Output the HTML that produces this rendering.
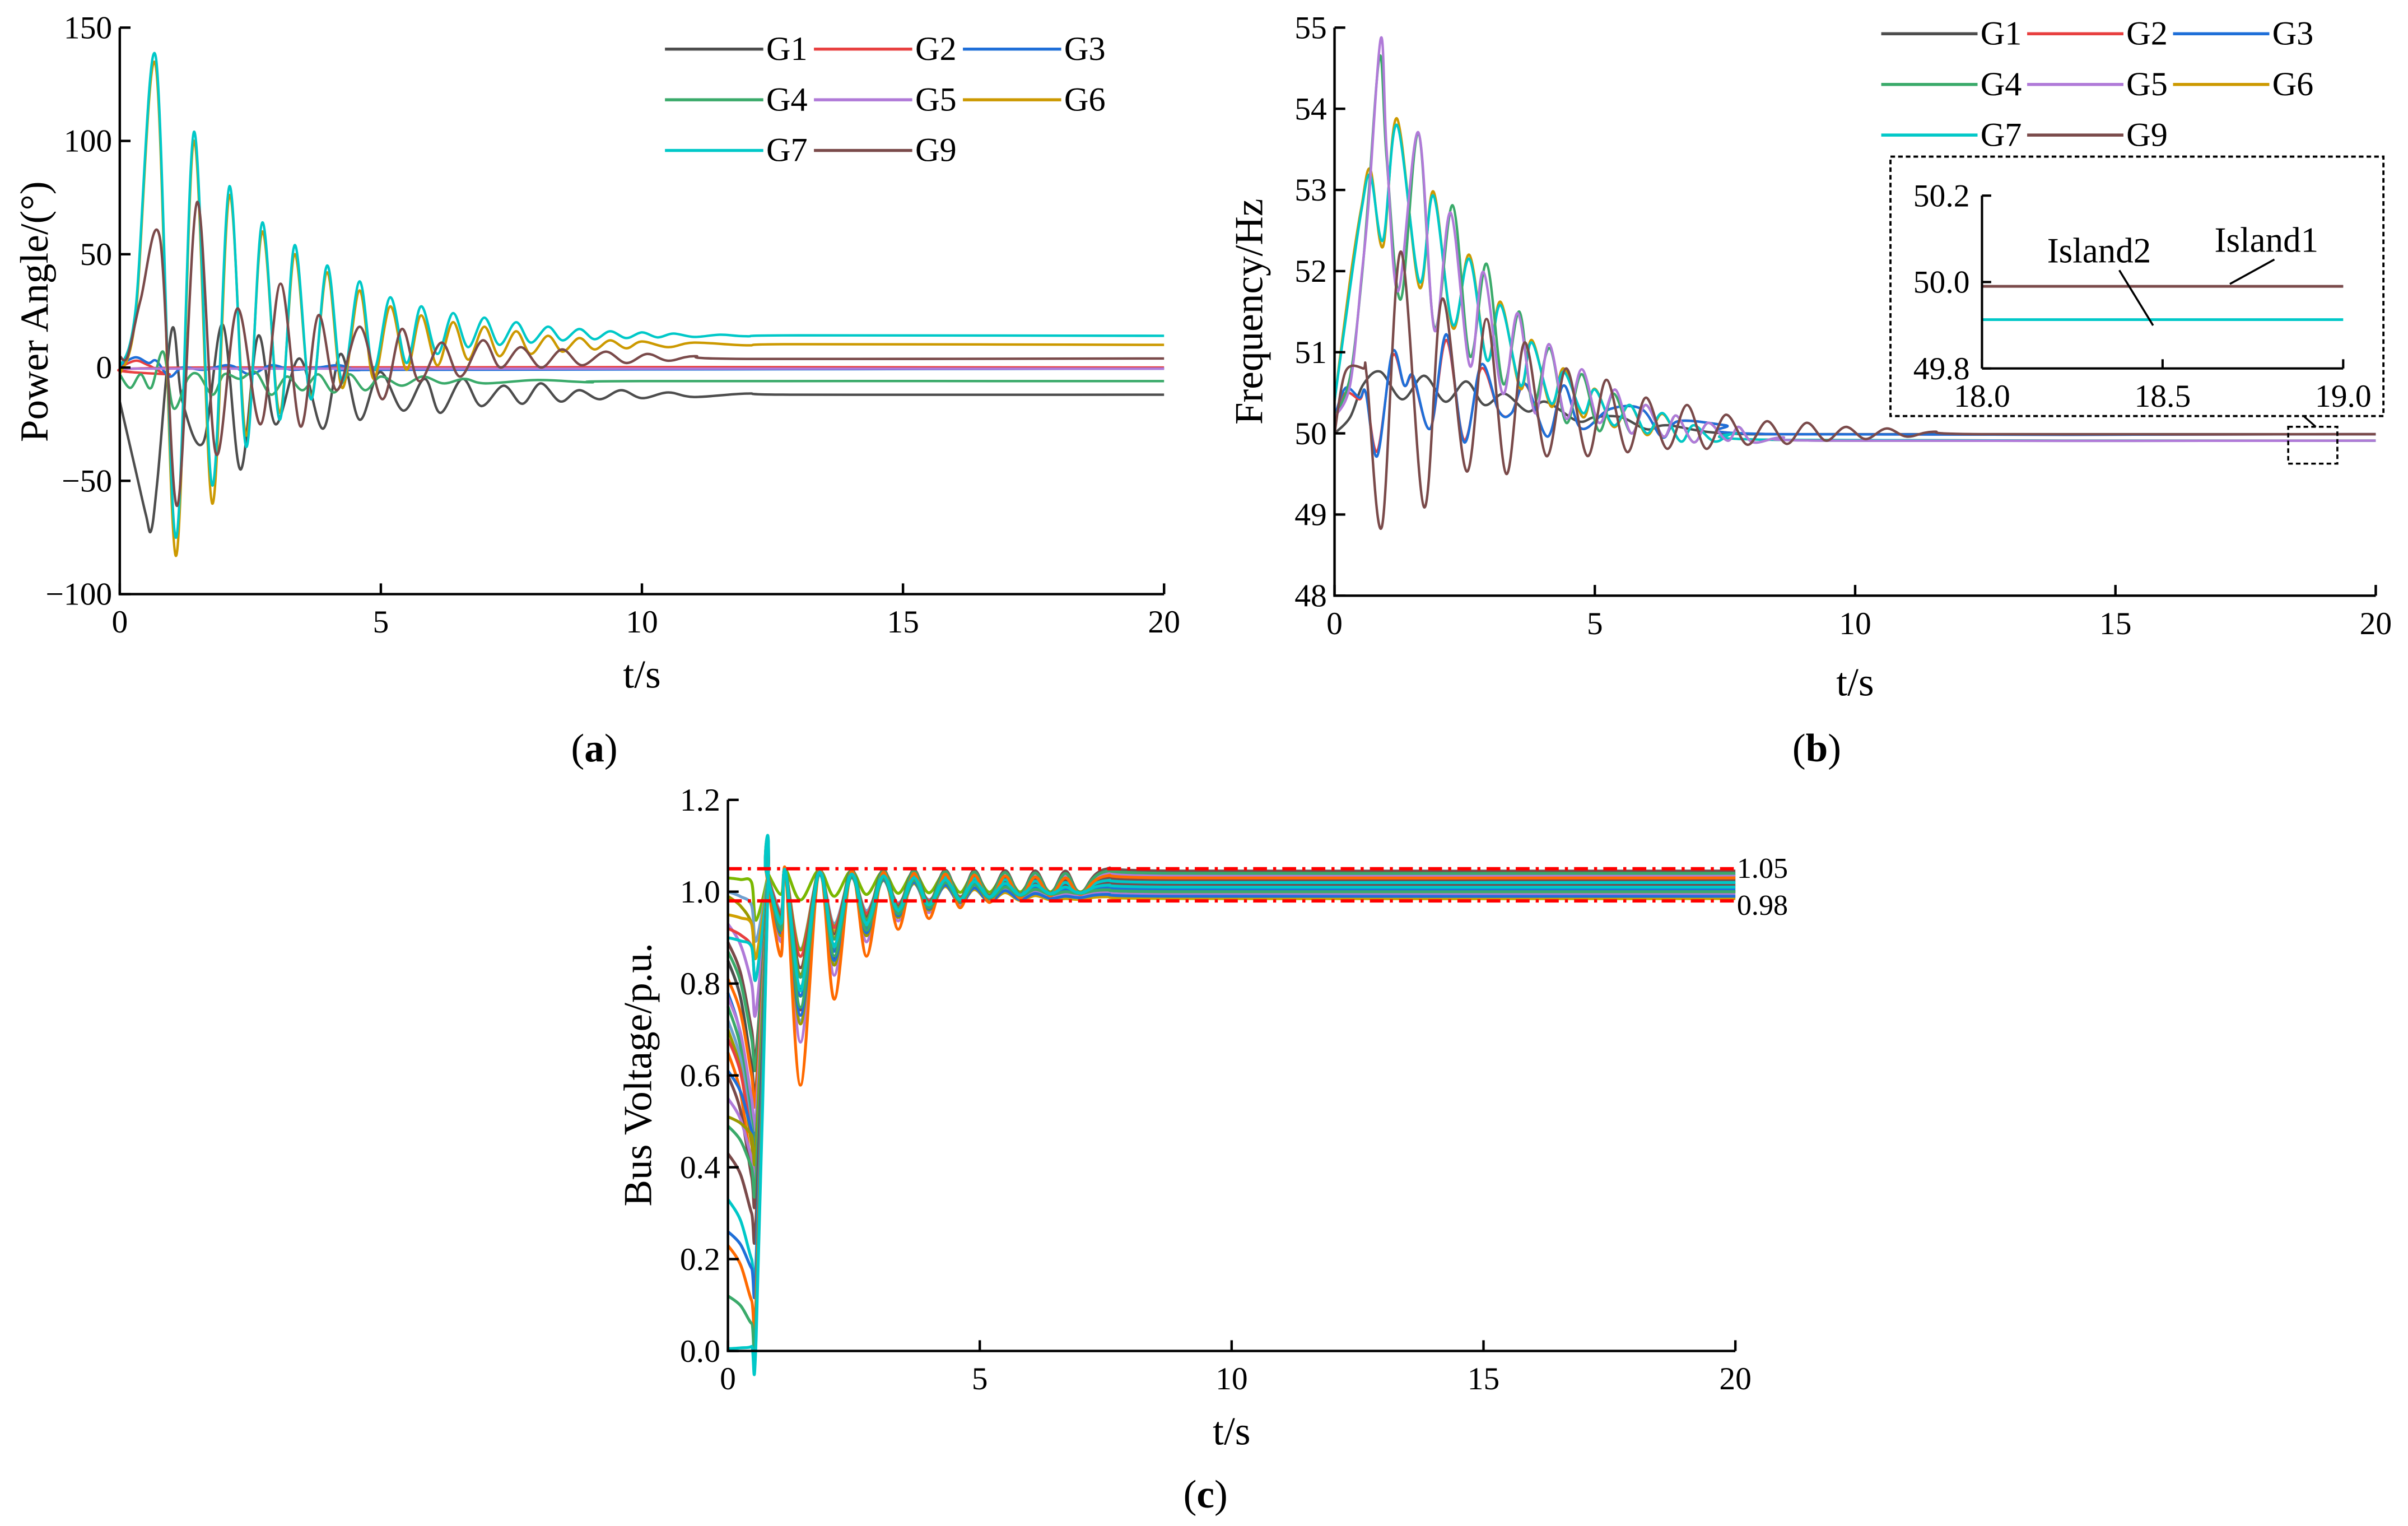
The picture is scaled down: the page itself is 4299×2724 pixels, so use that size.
<!DOCTYPE html>
<html><head><meta charset="utf-8"><title>Power angle, frequency and bus voltage after islanding</title>
<style>
html,body{margin:0;padding:0;background:#fff;}
svg{display:block;font-family:"Liberation Serif","DejaVu Serif",serif;}
</style></head>
<body>
<svg id="fig" xmlns="http://www.w3.org/2000/svg" width="4299" height="2724" viewBox="0 0 1568 994" preserveAspectRatio="none">
<rect x="0" y="0" width="1568" height="994" fill="#fff"/>
<g id="pa"></g>
<g id="pb"></g>
<g id="pc"></g>
</svg>
<script>
// ---------- Data: panel (a) power angle (deg) keypoints [t, value] ----------
const angG1 = [[0,-15],[0.3,-45],[0.5,-65],[0.6,-72],[0.72,-50],[1.0,17],[1.2,-15],[1.6,-33],[1.97,19],[2.31,-45],[2.65,14],[2.98,-25],[3.44,4],[3.89,-27],[4.23,6],[4.59,-23],[4.98,-2],[5.43,-19],[5.84,-5],[6.14,-20],[6.56,-5],[6.92,-17],[7.35,-8],[7.71,-16],[8.06,-7],[8.44,-15],[8.79,-10],[9.19,-14],[9.6,-10],[10,-13.5],[10.5,-11],[11,-13],[12,-11.5],[13,-12],[20,-12]];
const angG2 = [[0,0],[0.3,3],[0.55,1],[0.95,-3],[1.5,0],[20,0]];
const angG3 = [[0,1],[0.3,4.5],[0.55,2],[0.7,3],[0.95,-4],[1.2,0],[1.6,-1],[2.1,1],[2.5,-3],[2.9,1],[3.3,-1],[3.8,0],[4.2,1],[4.6,-1],[5.5,-1],[20,-0.5]];
const angG4 = [[0,-3],[0.2,-9],[0.4,-3],[0.6,-9],[0.83,7],[1.03,-18],[1.3,-5],[1.5,-3],[1.78,-12],[2.0,-3],[2.3,-5],[2.6,-2],[2.9,-12],[3.2,-4],[3.5,-10],[3.8,-3],[4.1,-11],[4.4,-3],[4.7,-10],[5.0,-4],[5.4,-8],[5.8,-4],[6.2,-7],[6.6,-5],[7.0,-7],[8,-5.5],[9,-6.5],[10,-6],[20,-6]];
const angG5 = [[0,-0.5],[20,-0.5]];
const angG6 = [[0,-3],[0.3,22],[0.69,133],[1.07,-83],[1.42,100],[1.77,-60],[2.10,76],[2.42,-30],[2.73,60],[3.06,-20],[3.35,50],[3.66,-13],[3.97,42],[4.26,-9],[4.59,34],[4.86,-5],[5.18,27],[5.49,-1],[5.77,23],[6.08,1],[6.38,20],[6.67,3.5],[6.98,18],[7.27,5],[7.59,16],[7.87,6],[8.2,14],[8.48,7],[8.8,13],[9.09,8],[9.39,12],[9.7,8.5],[10,11.5],[10.5,9],[11,11],[12,9.8],[13,10.3],[20,10]];
const angG7 = [[0,0],[0.3,25],[0.69,137],[1.07,-75],[1.42,104],[1.77,-52],[2.10,80],[2.42,-35],[2.73,64],[3.06,-23],[3.35,54],[3.66,-14],[3.97,45],[4.26,-6],[4.59,38],[4.86,-1],[5.18,31],[5.49,2],[5.77,27],[6.08,6],[6.38,24],[6.67,9],[6.98,22],[7.27,10],[7.59,20],[7.87,11],[8.2,18],[8.48,12],[8.8,17],[9.09,12.5],[9.39,16],[9.7,13],[10,15.5],[10.3,13.3],[10.6,15],[11,13.5],[11.5,14.5],[12,13.8],[13,14.2],[20,14]];
const angG9 = [[0,5],[0.15,5],[0.4,30],[0.77,57],[1.1,-61],[1.48,73],[1.84,-38],[2.25,26],[2.7,-25],[3.08,37],[3.46,-26],[3.8,23],[4.15,-10],[4.6,18],[5.03,-14],[5.4,17],[5.73,-6],[6.16,11],[6.52,-4],[6.95,12],[7.29,0],[7.68,9],[8.07,0],[8.47,8],[8.85,1],[9.3,7],[9.7,2],[10.1,6],[10.5,3],[11,5],[12,3.8],[20,4]];
const angTicksY = [-100,-50,0,50,100,150];
const timeTicks = [0,5,10,15,20];

// ---------- Data: panel (b) frequency (Hz) keypoints ----------
const frqG1 = [[0,50.0],[0.3,50.2],[0.55,50.6],[0.88,50.76],[1.3,50.42],[1.72,50.71],[2.13,50.39],[2.53,50.64],[2.88,50.35],[3.26,50.49],[3.71,50.27],[4.05,50.39],[4.67,50.15],[5.0,50.2],[5.5,50.2],[6.0,50.05],[6.4,50.1],[7.5,50.0],[10,49.99],[20,49.99]];
const frqG2 = [[0,50.2],[0.21,50.5],[0.48,50.42],[0.6,50.5],[0.82,49.78],[1.11,50.95],[1.34,50.59],[1.51,50.68],[1.84,50.06],[2.15,51.15],[2.49,49.92],[2.82,50.8],[3.16,50.27],[3.4,50.25],[3.67,50.6],[4.09,49.96],[4.4,50.59],[4.74,50.06],[5.29,50.3],[5.9,50.3],[6.3,49.95],[6.6,50.15],[7.5,50.1],[8.5,49.99],[20,49.99]];
const frqG3 = [[0,50.2],[0.21,50.56],[0.48,50.44],[0.6,50.5],[0.82,49.72],[1.11,51.0],[1.34,50.59],[1.51,50.71],[1.84,50.06],[2.15,51.22],[2.49,49.89],[2.82,50.85],[3.16,50.27],[3.4,50.25],[3.67,50.61],[4.09,49.96],[4.4,50.59],[4.74,50.06],[5.29,50.3],[5.9,50.3],[6.3,49.95],[6.6,50.15],[7.5,50.1],[8.5,49.99],[20,49.99]];
const frqG4 = [[0,50.2],[0.3,50.7],[0.52,51.9],[0.65,52.9],[0.87,54.65],[1.0,53.4],[1.27,51.65],[1.61,53.7],[1.92,51.3],[2.27,52.81],[2.6,50.95],[2.92,52.09],[3.24,50.61],[3.55,51.5],[3.81,50.35],[4.13,51.05],[4.45,50.13],[4.75,50.73],[5.08,50.03],[5.36,50.49],[5.7,50.0],[5.98,50.35],[6.32,49.96],[6.56,50.22],[6.9,49.89],[7.18,50.13],[7.55,49.91],[7.76,50.08],[8.04,49.89],[8.6,49.95],[9.5,49.91],[20,49.91]];
const frqG5 = [[0,50.2],[0.3,50.6],[0.52,51.94],[0.65,52.8],[0.89,54.87],[1.0,53.5],[1.22,51.75],[1.61,53.71],[1.92,51.27],[2.23,52.72],[2.6,50.83],[2.86,51.99],[3.23,50.49],[3.52,51.48],[3.85,50.25],[4.12,51.1],[4.45,50.18],[4.75,50.79],[5.08,50.13],[5.39,50.54],[5.7,50.0],[5.98,50.35],[6.32,49.96],[6.56,50.22],[6.9,49.89],[7.18,50.13],[7.55,49.91],[7.76,50.08],[8.04,49.89],[8.6,49.95],[9.5,49.91],[20,49.91]];
const frqG6 = [[0,50.4],[0.3,51.9],[0.52,52.8],[0.69,53.25],[0.93,52.3],[1.2,53.88],[1.63,51.8],[1.9,52.98],[2.27,51.3],[2.59,52.2],[2.93,50.9],[3.19,51.62],[3.57,50.55],[3.79,51.15],[4.16,50.33],[4.4,50.8],[4.77,50.2],[5.0,50.55],[5.36,50.08],[5.67,50.35],[6.0,49.98],[6.3,50.24],[6.65,49.9],[6.9,50.1],[7.3,49.9],[7.7,50.0],[8.5,49.92],[20,49.91]];
const frqG7 = [[0,50.4],[0.3,51.8],[0.52,52.76],[0.69,53.18],[0.93,52.38],[1.2,53.8],[1.63,51.87],[1.9,52.93],[2.27,51.34],[2.59,52.15],[2.93,50.9],[3.19,51.58],[3.57,50.59],[3.79,51.12],[4.16,50.37],[4.4,50.76],[4.77,50.25],[5.0,50.54],[5.36,50.1],[5.67,50.35],[6.0,50.0],[6.3,50.25],[6.65,49.9],[6.9,50.1],[7.3,49.9],[7.7,50.0],[8.5,49.92],[20,49.91]];
const frqG9 = [[0,50.0],[0.21,50.76],[0.55,50.8],[0.62,50.7],[0.91,48.85],[1.27,52.24],[1.72,49.09],[2.07,51.66],[2.54,49.53],[2.92,51.41],[3.3,49.5],[3.65,51.12],[4.07,49.72],[4.45,50.8],[4.86,49.72],[5.22,50.66],[5.62,49.77],[5.98,50.44],[6.39,49.81],[6.77,50.35],[7.14,49.81],[7.52,50.23],[7.93,49.86],[8.31,50.15],[8.69,49.87],[9.07,50.13],[9.44,49.91],[9.82,50.08],[10.2,49.93],[10.6,50.06],[11.0,49.96],[11.5,50.02],[12.5,49.99],[20,49.99]];
const frqTicksY = [48,49,50,51,52,53,54,55];
// inset (zoom 18–19 s)
const insetIsland1 = [[18,49.99],[19,49.99]];
const insetIsland2 = [[18,49.913],[19,49.913]];
const insetTicksX = ["18.0","18.5","19.0"];
const insetTicksY = ["49.8","50.0","50.2"];

// ---------- Data: panel (c) bus voltages ----------
const busStart = [1.03,1.0,0.99,0.95,0.93,0.92,0.90,0.89,0.87,0.85,0.81,0.78,0.77,0.75,0.72,0.70,0.68,0.65,0.61,0.60,0.55,0.51,0.49,0.43,0.33,0.26,0.23,0.12,0.005];
const busFault = [1.02,0.97,0.93,0.93,0.80,0.88,0.88,0.70,0.68,0.62,0.60,0.52,0.55,0.50,0.48,0.45,0.47,0.40,0.48,0.38,0.42,0.47,0.40,0.30,0.20,0.18,0.11,0.06,0.01];
const busFinal = [1.035,1.0,0.99,0.985,1.03,1.01,1.02,1.045,1.0,1.025,1.015,1.04,0.995,1.02,1.005,1.03,1.0,1.01,0.99,1.025,1.035,1.0,1.04,1.015,1.02,1.005,1.03,1.0,1.01];
const busSwing = [0.05,0.3,0.25,0.35,0.4,0.3,0.5,0.4,0.45,0.6,0.5,0.45,0.7,0.55,0.6,0.5,0.65,0.55,0.6,0.5,0.7,0.8,0.45,0.55,0.6,0.65,0.9,0.7,0.5];
const dipTimes = [1.05,1.44,2.11,2.75,3.38,3.99,4.61,5.19,5.8,6.4,7.0];
const dipDepth = [0.12,0.36,0.2,0.12,0.07,0.05,0.03,0.02,0.012,0.008,0.005];
const voltTicksY = [0.0,0.2,0.4,0.6,0.8,1.0,1.2];
const voltLimits = [1.05,0.98];

const colors = {G1:"#4d4d4d",G2:"#e84040",G3:"#1f6fd8",G4:"#3aaa6a",G5:"#b07ad8",G6:"#cc9900",G7:"#00c8c8",G9:"#7a4a4a"};
const busColors = ["#7ab800","#6fa0d0","#9a9a00","#d0a000","#b07ad8","#e84040","#00c8c8","#7a4a4a","#3aaa6a","#4d4d4d","#ff6a00","#1f6fd8","#b07ad8","#3aaa6a","#6fa0d0","#9a9a00","#e84040","#ff6a00","#1f6fd8","#7a4a4a","#b07ad8","#9a9a00","#3aaa6a","#7a4a4a","#00c8c8","#1f6fd8","#ff6a00","#3aaa6a","#00c8c8"];

const NS = "http://www.w3.org/2000/svg";
function mk(parent, tag, attrs, text){
  const e = document.createElementNS(NS, tag);
  for (const k in attrs) e.setAttribute(k, attrs[k]);
  if (text !== undefined) e.textContent = text;
  parent.appendChild(e);
  return e;
}
function smoothPath(pts){
  if (pts.length < 2) return "";
  let d = "M" + pts[0][0].toFixed(2) + "," + pts[0][1].toFixed(2);
  for (let i = 0; i < pts.length - 1; i++){
    const p0 = pts[i-1] || pts[i], p1 = pts[i], p2 = pts[i+1], p3 = pts[i+2] || p2;
    const c1x = p1[0] + (p2[0]-p0[0])/6, c1y = p1[1] + (p2[1]-p0[1])/6;
    const c2x = p2[0] - (p3[0]-p1[0])/6, c2y = p2[1] - (p3[1]-p1[1])/6;
    d += " C" + c1x.toFixed(2)+","+c1y.toFixed(2)+" "+c2x.toFixed(2)+","+c2y.toFixed(2)+" "+p2[0].toFixed(2)+","+p2[1].toFixed(2);
  }
  return d;
}
function fmtNeg(v){ return v < 0 ? "\u2212" + Math.abs(v) : String(v); }

function axes(g, X, Y, x0, x1, y0, y1, yTicks, yFmt, name){
  const ax = mk(g, "g", {});
  
  
  const yl = mk(ax, "line", {x1:X(x0), y1:Y(y0), x2:X(x0), y2:Y(y1), stroke:"#000", "stroke-width":1.6});
  
  
  const xl = mk(ax, "line", {x1:X(x0)-0.8, y1:Y(y0), x2:X(x1), y2:Y(y0), stroke:"#000", "stroke-width":1.6});
  
  
  yTicks.forEach(v => {
    const t = mk(ax, "line", {x1:X(x0), y1:Y(v), x2:X(x0)+7, y2:Y(v), stroke:"#000", "stroke-width":1.6});
    
    
    const lb = mk(ax, "text", {x:X(x0)-5, y:Y(v)+7, "font-size":21, "text-anchor":"end"}, yFmt(v));
    
    
  });
  timeTicks.forEach(v => {
    const t = mk(ax, "line", {x1:X(v), y1:Y(y0), x2:X(v), y2:Y(y0)-7, stroke:"#000", "stroke-width":1.6});
    
    
    const lb = mk(ax, "text", {x:X(v), y:Y(y0)+25, "font-size":21, "text-anchor":"middle"}, String(v));
    
    
  });
}
function series(g, pts, X, Y, color, name, w){
  const p = mk(g, "path", {d:smoothPath(pts.map(q => [X(q[0]), Y(q[1])])), fill:"none", stroke:color, "stroke-width":w||1.6, "stroke-linejoin":"round"});
  
  
}
function legend(g, x0, y0, dx, dy, name){
  const items = ["G1","G2","G3","G4","G5","G6","G7","G9"];
  const lg = mk(g, "g", {});
  
  
  items.forEach((it, i) => {
    const c = i % 3, r = Math.floor(i / 3);
    const x = x0 + c*dx, y = y0 + r*dy;
    const e = mk(lg, "g", {});
    
    
    mk(e, "line", {x1:x, y1:y, x2:x+dx*0.66, y2:y, stroke:colors[it], "stroke-width":2});
    mk(e, "text", {x:x+dx*0.68, y:y+7, "font-size":22}, it);
  });
}

// ---------- Panel (a) ----------
(function(){
  const g = document.getElementById("pa");
  const X = t => 78 + t*34;
  const Y = v => 387 - (v + 100)*(369/250);
  const order = [["G1",angG1],["G2",angG2],["G3",angG3],["G4",angG4],["G5",angG5],["G6",angG6],["G7",angG7],["G9",angG9]];
  order.forEach(s => series(g, s[1], X, Y, colors[s[0]], 'angle-line-' + s[0].toLowerCase()));
  axes(g, X, Y, 0, 20, -100, 150, angTicksY, fmtNeg, 'panel-a');
  legend(g, 433, 32, 97, 33, 'panel-a-legend');
  const yt = mk(g, "text", {x:0, y:0, "font-size":26, "text-anchor":"middle", transform:"translate(31,203) rotate(-90)"}, "Power Angle/(\u00B0)");
  
  
  const xt = mk(g, "text", {x:418, y:448, "font-size":26, "text-anchor":"middle"}, "t/s");
  
  
  const cap = mk(g, "text", {x:387, y:496, "font-size":26, "text-anchor":"middle"});
  
  
  cap.innerHTML = '(<tspan font-weight="bold">a</tspan>)';
})();

// ---------- Panel (b) ----------
(function(){
  const g = document.getElementById("pb");
  const X = t => 869 + t*33.9;
  const Y = v => 388 - (v - 48)*(370/7);
  const order = [["G1",frqG1],["G2",frqG2],["G3",frqG3],["G6",frqG6],["G7",frqG7],["G4",frqG4],["G5",frqG5],["G9",frqG9]];
  order.forEach(s => series(g, s[1], X, Y, colors[s[0]], 'frequency-line-' + s[0].toLowerCase()));
  axes(g, X, Y, 0, 20, 48, 55, frqTicksY, v => String(v), 'panel-b');
  legend(g, 1225, 22, 95, 33, 'panel-b-legend');
  const yt = mk(g, "text", {x:0, y:0, "font-size":26, "text-anchor":"middle", transform:"translate(822,203) rotate(-90)"}, "Frequency/Hz");
  
  
  const xt = mk(g, "text", {x:1208, y:453, "font-size":26, "text-anchor":"middle"}, "t/s");
  
  
  const cap = mk(g, "text", {x:1183, y:496, "font-size":26, "text-anchor":"middle"});
  
  
  cap.innerHTML = '(<tspan font-weight="bold">b</tspan>)';

  const zb = mk(g, "rect", {x:1490, y:278, width:32, height:24, fill:"none", stroke:"#000", "stroke-width":1.3, "stroke-dasharray":"3,2"});
  
  
  mk(g, "line", {x1:1500, y1:271, x2:1508, y2:278, stroke:"#000", "stroke-width":1.2});

  const ins = mk(g, "g", {});
  
  
  mk(ins, "rect", {x:1231, y:102, width:321, height:169, fill:"#fff", stroke:"#000", "stroke-width":1.4, "stroke-dasharray":"3,2"});
  const IX = t => 1290.6 + (t - 18)*235.2;
  const IY = v => 240 - (v - 49.8)*(112.6/0.4);
  series(ins, insetIsland2, IX, IY, colors.G7, 'inset-island2-line', 1.8);
  series(ins, insetIsland1, IX, IY, colors.G3, 'inset-island1-blue', 1.4);
  series(ins, insetIsland1, IX, IY, colors.G9, 'inset-island1-line', 1.8);
  mk(ins, "line", {x1:IX(18), y1:IY(50.2), x2:IX(18), y2:IY(49.8), stroke:"#000", "stroke-width":1.5});
  mk(ins, "line", {x1:IX(18), y1:IY(49.8), x2:IX(19), y2:IY(49.8), stroke:"#000", "stroke-width":1.5});
  insetTicksY.forEach(s => {
    const v = parseFloat(s);
    mk(ins, "line", {x1:IX(18), y1:IY(v), x2:IX(18)+6, y2:IY(v), stroke:"#000", "stroke-width":1.5});
    const l = mk(ins, "text", {x:IX(18)-8, y:IY(v)+7, "font-size":21, "text-anchor":"end"}, s);
    
    
  });
  insetTicksX.forEach(s => {
    const v = parseFloat(s);
    mk(ins, "line", {x1:IX(v), y1:IY(49.8), x2:IX(v), y2:IY(49.8)-6, stroke:"#000", "stroke-width":1.5});
    const l = mk(ins, "text", {x:IX(v), y:265, "font-size":21, "text-anchor":"middle"}, s);
    
    
  });
  const i2 = mk(ins, "text", {x:1333, y:171, "font-size":23}, "Island2");
  
  
  const i1 = mk(ins, "text", {x:1442, y:164, "font-size":23}, "Island1");
  
  
  mk(ins, "line", {x1:1380, y1:176, x2:1402, y2:212, stroke:"#000", "stroke-width":1.3});
  mk(ins, "line", {x1:1481, y1:169, x2:1452, y2:185, stroke:"#000", "stroke-width":1.3});
})();

// ---------- Panel (c) ----------
(function(){
  const g = document.getElementById("pc");
  const X = t => 474 + t*32.8;
  const Y = v => 880 - v*(359/1.2);
  busStart.forEach((v0, i) => {
    const vf = busFault[i], vEnd = busFinal[i], sw = busSwing[i];
    const pts = [[0, v0], [0.25, v0 - (v0 - vf)*0.35], [0.47, vf], [0.56, vf*0.9 + 0.02], [0.8, 1.04]];
    dipTimes.forEach((t, k) => {
      const depth = dipDepth[k]*sw*(1 + (i % 3)*0.15);
      const pk = vEnd + (1.05 - vEnd)*Math.max(0, 1 - k*0.1);
      pts.push([t - 0.3, pk]);
      pts.push([t, Math.min(vEnd, 1.0) - depth]);
    });
    pts.push([7.5, vEnd + 0.004]);
    pts.push([9, vEnd]);
    pts.push([20, vEnd]);
    series(g, pts, X, Y, busColors[i], 'bus-voltage-line', 1.9);
  });
  voltLimits.forEach((v, k) => {
    const l = mk(g, "line", {x1:X(0), y1:Y(v), x2:X(20), y2:Y(v), stroke:"#ff0000", "stroke-width":2.2, "stroke-dasharray":"9,4,2,4"});
    
    
    const t = mk(g, "text", {x:1131, y:Y(v) + (k === 0 ? 6 : 9), "font-size":19}, v.toFixed(2));
    
    
  });
  axes(g, X, Y, 0, 20, 0, 1.2, voltTicksY, v => v.toFixed(1), 'panel-c');
  const yt = mk(g, "text", {x:0, y:0, "font-size":26, "text-anchor":"middle", transform:"translate(424,700) rotate(-90)"}, "Bus Voltage/p.u.");
  
  
  const xt = mk(g, "text", {x:802, y:941, "font-size":26, "text-anchor":"middle"}, "t/s");
  
  
  const cap = mk(g, "text", {x:785, y:982, "font-size":26, "text-anchor":"middle"});
  
  
  cap.innerHTML = '(<tspan font-weight="bold">c</tspan>)';
})();
</script>
</body></html>
